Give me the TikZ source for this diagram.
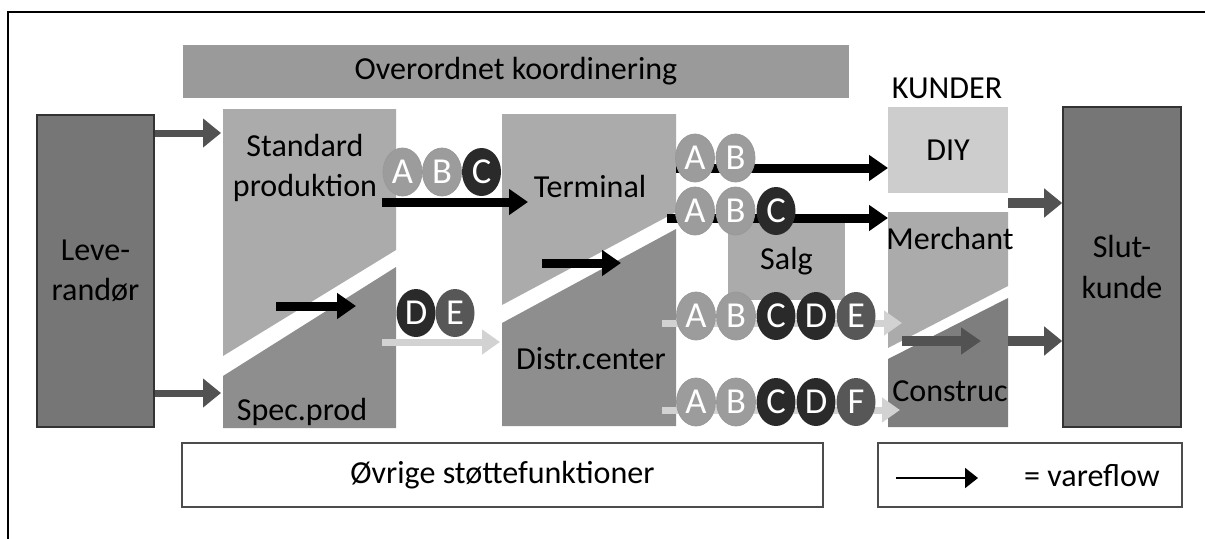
\documentclass[tikz,border=0pt]{standalone}
\usepackage{fontspec}
\setmainfont{Carlito}
\usepackage{tikz}
\usetikzlibrary{positioning, arrows.meta, shapes.geometric}
\usepackage{xcolor}

\definecolor{koordgray}{HTML}{9A9A9A}
\definecolor{endgray}{HTML}{767676}
\definecolor{upgray}{HTML}{ABABAB}
\definecolor{lowgray}{HTML}{8E8E8E}
\definecolor{constrgray}{HTML}{7E7E7E}
\definecolor{diygray}{HTML}{CDCDCD}
\definecolor{warelightcol}{HTML}{9C9C9C}
\definecolor{waredarkcol}{HTML}{2A2A2A}
\definecolor{waremidcol}{HTML}{575757}
\definecolor{flowlight}{HTML}{D2D2D2}
\definecolor{flowgray}{HTML}{525252}

\tikzset{
  endbox/.style={fill=endgray, draw=black!80, line width=0.4mm, align=center, inner sep=0pt},
  flatbox/.style={inner sep=0pt, align=center},
  ware/.style={ellipse, minimum width=9.75mm, minimum height=12mm, inner sep=0pt, text=white, font=\fontsize{26pt}{26pt}\selectfont},
  warelight/.style={ware, fill=warelightcol, draw=black!40, line width=0.2mm},
  waredark/.style={ware, fill=waredarkcol},
  waremid/.style={ware, fill=waremidcol},
  vareflow/.style={line width=2.25mm, -{Triangle[length=4.75mm, width=6.25mm]}},
  greyflow/.style={flowgray, line width=1.75mm, -{Triangle[length=4.5mm, width=7mm]}},
  lightflow/.style={flowlight, line width=1.75mm, -{Triangle[length=4.5mm, width=6mm]}},
}

\begin{document}
\begin{tikzpicture}[x=0.25mm, y=-0.25mm, font=\fontsize{22.8pt}{28.5pt}\selectfont]
  \useasboundingbox (0,0) rectangle (1205,539);
  \draw[line width=0.6mm] (8,539) -- (8,12) -- (1205,12);

  \node[flatbox, fill=koordgray, minimum width=166.5mm, minimum height=13.25mm] (koord) at (516,71.5) {Overordnet koordinering};

  \node[endbox, minimum width=29.25mm, minimum height=78mm] (lev) at (95.5,271) {Leve-\\randør};
  \node[endbox, minimum width=29.5mm, minimum height=80mm] (slut) at (1122,267) {Slut-\\kunde};

  % split blocks: upper and lower part with a white gap between
  \fill[upgray] (223,109) -- (396,109) -- (396,250) -- (223,356) -- cycle;
  \fill[lowgray] (223,376) -- (396,267) -- (396,428) -- (223,428) -- cycle;
  \fill[upgray] (502,114) -- (676,114) -- (676,212) -- (502,305) -- cycle;
  \fill[lowgray] (502,323) -- (676,229) -- (676,426) -- (502,426) -- cycle;
  \fill[upgray] (888,212) -- (1008,212) -- (1008,286) -- (888,348) -- cycle;
  \fill[constrgray] (888,359) -- (1008,298) -- (1008,427) -- (888,427) -- cycle;

  \node[flatbox] (std) at (305,168) {Standard\\produktion};
  \node[flatbox] (spec) at (302,412) {Spec.prod};
  \node[flatbox] (term) at (590,186) {Terminal};
  \node[flatbox] (distr) at (591,359) {Distr.center};
  \node[flatbox] (kunder) at (947,88) {KUNDER};
  \node[flatbox, fill=diygray, minimum width=30mm, minimum height=21.5mm] (diy) at (948,150) {DIY};
  \node[flatbox] (merch) at (950,238) {Merchant};
  \node[flatbox] (constr) at (950,391) {Construc};
  \node[flatbox, fill=upgray, minimum width=29.25mm, minimum height=19.5mm] (salg) at (786.5,261) {Salg};

  \node[flatbox, fill=white, draw=black!70, line width=0.5mm, minimum width=160.25mm, minimum height=16mm] (ovrig) at (502.5,475) {Øvrige støttefunktioner};
  \node[flatbox, fill=white, draw=black!70, line width=0.5mm, minimum width=76mm, minimum height=16mm] (legend) at (1030,475) {};
  \node[flatbox] (legtxt) at (1092,476) {= vareflow};

  % arrow ends
  \coordinate (stdin) at (221,133);
  \coordinate (spcin) at (221,393);
  \coordinate (stdA) at (276,306);   \coordinate (stdB) at (356,306);
  \coordinate (termA) at (542,263);  \coordinate (termB) at (621,263);
  \coordinate (consA) at (902,341);  \coordinate (consB) at (981,341);
  \coordinate (abcA) at (382,202);   \coordinate (abcB) at (528,202);
  \coordinate (deA) at (382,342);    \coordinate (deB) at (500,342);
  \coordinate (diyA) at (676,168);   \coordinate (diyB) at (888,168);
  \coordinate (merA) at (667,218);   \coordinate (merB) at (888,218);
  \coordinate (salA) at (662,323);   \coordinate (salB) at (902,323);
  \coordinate (conA) at (662,410);   \coordinate (conB) at (900,410);
  \coordinate (outA) at (1008,203);  \coordinate (outB) at (1008,341);
  \coordinate (legA) at (896,478);   \coordinate (legB) at (978,478);

  \draw[greyflow] (lev.east |- stdin) -- (stdin);
  \draw[greyflow] (lev.east |- spcin) -- (spcin);
  \draw[vareflow] (stdA) -- (stdB);
  \draw[vareflow] (termA) -- (termB);
  \draw[flowgray, line width=2.5mm, -{Triangle[length=5mm, width=6.5mm]}] (consA) -- (consB);
  \draw[vareflow] (abcA) -- (abcB);
  \draw[lightflow] (deA) -- (deB);
  \draw[vareflow] (diyA) -- (diyB);
  \draw[vareflow] (merA) -- (merB);
  \draw[lightflow] (salA) -- (salB);
  \draw[lightflow] (conA) -- (conB);
  \draw[greyflow, line width=2.5mm] (outA) -- (slut.west |- outA);
  \draw[greyflow, line width=2.5mm] (outB) -- (slut.west |- outB);
  \draw[line width=0.5mm, -{Triangle[length=3.25mm, width=5mm]}] (legA) -- (legB);

  % varegrupper
  \foreach \ltr/\sty [count=\i] in {A/warelight, B/warelight, C/waredark}
    \node[\sty] (abc\i) at ({402.5+39.5*(\i-1)},172) {\ltr};
  \foreach \ltr/\sty [count=\i] in {D/waredark, E/waremid}
    \node[\sty] (de\i) at ({416+39*(\i-1)},313) {\ltr};
  \foreach \ltr/\sty [count=\i] in {A/warelight, B/warelight}
    \node[\sty] (diyw\i) at ({695+40.5*(\i-1)},158) {\ltr};
  \foreach \ltr/\sty [count=\i] in {A/warelight, B/warelight, C/waredark}
    \node[\sty] (merw\i) at ({695+40.5*(\i-1)},211) {\ltr};
  \foreach \ltr/\sty [count=\i] in {A/warelight, B/warelight, C/waredark, D/waredark, E/waremid}
    \node[\sty] (salw\i) at ({696+40*(\i-1)},316) {\ltr};
  \foreach \ltr/\sty [count=\i] in {A/warelight, B/warelight, C/waredark, D/waredark, F/waremid}
    \node[\sty] (conw\i) at ({696+40*(\i-1)},402) {\ltr};
\end{tikzpicture}
\end{document}
